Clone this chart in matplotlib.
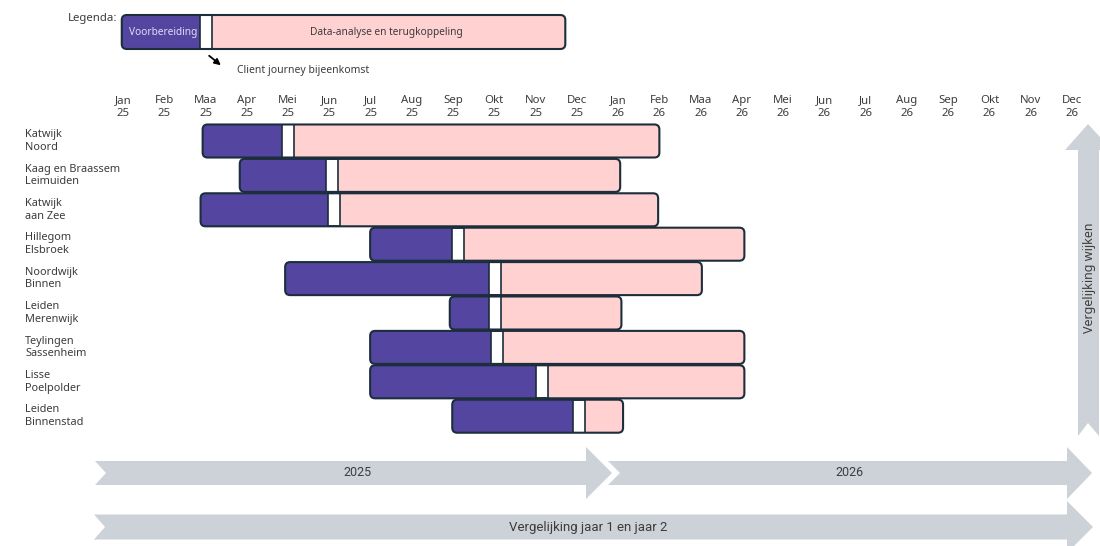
import matplotlib
matplotlib.use("Agg")
import matplotlib.pyplot as plt
from matplotlib.patches import FancyBboxPatch, Rectangle, Polygon

plt.rcParams["font.family"] = ["Noto Sans", "DejaVu Sans"]

# ---- data -------------------------------------------------------------
months = ["Jan", "Feb", "Maa", "Apr", "Mei", "Jun", "Jul", "Aug", "Sep", "Okt", "Nov", "Dec"]
years = ["25", "26"]
month_labels = [f"{m}\n{y}" for y in years for m in months]

regions = [
    "Katwijk\nNoord",
    "Kaag en Braassem\nLeimuiden",
    "Katwijk\naan Zee",
    "Hillegom\nElsbroek",
    "Noordwijk\nBinnen",
    "Leiden\nMerenwijk",
    "Teylingen\nSassenheim",
    "Lisse\nPoelpolder",
    "Leiden\nBinnenstad",
]
# positions in months, 0 = Jan 2025
prep_start = [1.93, 2.83, 1.88, 5.99, 3.93, 7.92, 5.99, 5.99, 7.98]
meeting_start = [3.85, 4.92, 4.98, 7.98, 8.87, 8.87, 8.92, 10.0, 10.9]
analysis_end = [13.0, 12.05, 12.97, 15.06, 14.03, 12.08, 15.06, 15.06, 12.12]
meeting_len = 0.29

legend_start, legend_meeting, legend_end = -0.03, 1.87, 10.72

# ---- style ------------------------------------------------------------
PURPLE = "#5446a0"
PINK = "#ffd1d1"
EDGE = "#1c2d3b"
GREY = "#cdd2d8"
TEXT = "#3c3c3c"

W, H = 1100, 546
fig = plt.figure(figsize=(W / 100, H / 100), dpi=100)

# month / row scale
px_per_month = 41.26
px_per_row = 34.4
x0_px, y0_px = 123, 141
ax = fig.add_axes([0, 0, 1, 1])
ax.set_xlim(-x0_px / px_per_month, (W - x0_px) / px_per_month)
ax.set_ylim((H - y0_px) / px_per_row, -y0_px / px_per_row)
ax.axis("off")
aspect = px_per_month / px_per_row
rad = 5 / px_per_month


def task_bar(y, start, meet, end, h):
    outer = FancyBboxPatch((start, y - h / 2), end - start, h,
                           boxstyle=f"round,pad=0,rounding_size={rad}",
                           mutation_aspect=aspect, fc=PINK, ec="none", zorder=2)
    ax.add_patch(outer)
    prep = Rectangle((start, y - h / 2), meet - start, h, fc=PURPLE, ec="none", zorder=3)
    ax.add_patch(prep)
    prep.set_clip_path(outer)
    gap = Rectangle((meet, y - h / 2), meeting_len, h, fc="white", ec=EDGE, lw=1.2, zorder=3)
    ax.add_patch(gap)
    gap.set_clip_path(outer)
    ax.add_patch(FancyBboxPatch((start, y - h / 2), end - start, h,
                                boxstyle=f"round,pad=0,rounding_size={rad}",
                                mutation_aspect=aspect, fc="none", ec=EDGE, lw=1.5, zorder=4))


bar_h = 0.96
for i, (s, m, e) in enumerate(zip(prep_start, meeting_start, analysis_end)):
    task_bar(i, s, m, e, bar_h)

# row labels
for i, name in enumerate(regions):
    ax.text((25 - x0_px) / px_per_month, i, name, ha="left", va="center",
            fontsize=7.9, color=TEXT, linespacing=1.2)

# month labels
for k, lab in enumerate(month_labels):
    ax.text(k, (107 - y0_px) / px_per_row, lab, ha="center", va="center",
            fontsize=8.2, color=TEXT, linespacing=1.25)

# legend bar
ly = (32 - y0_px) / px_per_row
task_bar(ly, legend_start, legend_meeting, legend_end, 34 / px_per_row)

# ---- overlay in pixel units for legend text and arrows ----------------
ov = fig.add_axes([0, 0, 1, 1])
ov.set_xlim(0, W)
ov.set_ylim(H, 0)
ov.axis("off")

ov.text(117, 18, "Legenda:", ha="right", va="center", fontsize=8.2, color=TEXT)
ov.text(163, 32, "Voorbereiding", ha="center", va="center", fontsize=7.3, color="#e2ddf7", zorder=6)
ov.text(386, 32, "Data-analyse en terugkoppeling", ha="center", va="center", fontsize=7.3,
        color=TEXT, zorder=6)
ov.annotate("", xy=(223, 67), xytext=(207, 54),
            arrowprops=dict(arrowstyle="-|>", color="black", lw=1.3, mutation_scale=9))
ov.text(237, 71, "Client journey bijeenkomst", ha="left", va="center", fontsize=7.5, color=TEXT)


def chevron(x_left, notch, x_head, x_tip, yc, body_h, head_h):
    return Polygon([(x_left, yc - body_h / 2), (x_head, yc - body_h / 2),
                    (x_head, yc - head_h / 2), (x_tip, yc), (x_head, yc + head_h / 2),
                    (x_head, yc + body_h / 2), (x_left, yc + body_h / 2),
                    (x_left + notch, yc)], closed=True, fc=GREY, ec="none", zorder=1)


ov.add_patch(chevron(95, 11, 586, 612, 473, 24, 52))
ov.add_patch(chevron(608, 12, 1067, 1092, 473, 24, 52))
ov.add_patch(chevron(94, 11, 1067, 1093, 527, 25, 52))

# vertical arrow
ov.add_patch(Polygon([(1078, 436), (1078, 150), (1065, 150), (1088, 124), (1112, 150),
                      (1099, 150), (1099, 436), (1088, 423)], closed=True,
                     fc=GREY, ec="none", zorder=1))

narrow = ["Liberation Sans Narrow", "Roboto", "DejaVu Sans"]
ov.text(357, 472, "2025", ha="center", va="center", fontsize=9, color=TEXT, family=narrow)
ov.text(850, 472, "2026", ha="center", va="center", fontsize=9, color=TEXT, family=narrow)
ov.text(588, 527, "Vergelijking jaar 1 en jaar 2", ha="center", va="center", fontsize=9.5,
        color=TEXT, family=narrow)
ov.text(1090, 278, "Vergelijking wijken", ha="center", va="center", rotation=90,
        fontsize=9, color=TEXT)

fig.savefig("out.png", dpi=100)
